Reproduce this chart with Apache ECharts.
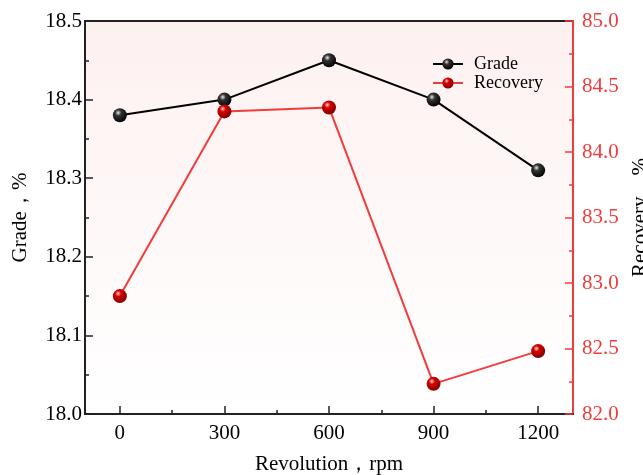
<!DOCTYPE html>
<html>
<head>
<meta charset="utf-8">
<script src="https://cdn.jsdelivr.net/npm/echarts@6/dist/echarts.min.js"></script>
<style>
  html, body { margin: 0; padding: 0; background: #fff; }
  #chart { width: 643px; height: 475px; }
</style>
</head>
<body>
<div id="chart"></div>
<script>
var revolutions = [0, 300, 600, 900, 1200];
var grade = [18.38, 18.40, 18.45, 18.40, 18.31];
var recovery = [82.90, 84.31, 84.34, 82.23, 82.48];
var majorTicks = [0, 300, 600, 900, 1200];
var minorTicks = [150, 450, 750, 1050];

function sphere (light, mid, dark) {
    return {
        type: 'radial', x: 0.38, y: 0.32, r: 0.72,
        colorStops: [
            {offset: 0, color: light},
            {offset: 0.3, color: mid},
            {offset: 1, color: dark}
        ]
    };
}

var font = '"Liberation Serif", "Times New Roman", serif';
var red = '#f03c3c';
var dark = '#222';
var chartobj = echarts.init(document.getElementById('chart'));

var option = {
    textStyle: {fontFamily: font},
    animation: false,
    grid: {
        left: 85, right: 70, top: 21, bottom: 61,
        outerBoundsMode: 'none',
        containLabel: false,
        show: true,
        borderColor: dark,
        borderWidth: 2,
        backgroundColor: {
            type: 'linear', x: 0, y: 0, x2: 0, y2: 1,
            colorStops: [
                {offset: 0, color: '#fdf1f0'},
                {offset: 1, color: '#ffffff'}
            ]
        }
    },
    legend: {
        orient: 'vertical',
        left: 427, top: 50,
        itemGap: 1,
        itemWidth: 30, itemHeight: 14,
        textStyle: {fontFamily: font, fontSize: 18, lineHeight: 14, color: '#000', padding: [0, 0, 0, 6]},
        data: ['Grade', 'Recovery']
    },
    xAxis: [
        {
            type: 'value',
            min: -100, max: 1300,
            name: 'Revolution，rpm',
            nameLocation: 'middle',
            nameGap: 40,
            nameTextStyle: {fontFamily: font, fontSize: 21, color: '#000'},
            axisLine: {onZero: false, lineStyle: {color: dark, width: 2}},
            axisTick: {inside: true, length: 8, customValues: majorTicks, lineStyle: {color: dark, width: 1.5}},
            axisLabel: {customValues: majorTicks, fontSize: 21, color: '#000', margin: 9,
                        formatter: function (v) { return String(v); }},
            splitLine: {show: false}
        },
        {
            type: 'value',
            min: -100, max: 1300,
            position: 'bottom',
            axisLine: {show: false, onZero: false},
            axisTick: {inside: true, length: 4, customValues: minorTicks, lineStyle: {color: dark, width: 1.5}},
            axisLabel: {show: false},
            splitLine: {show: false}
        }
    ],
    yAxis: [
        {
            type: 'value',
            min: 18.0, max: 18.5, interval: 0.1,
            name: 'Grade，%',
            nameLocation: 'middle',
            nameGap: 54,
            nameTextStyle: {fontFamily: font, fontSize: 21, color: '#000'},
            axisLine: {show: true, onZero: false, lineStyle: {color: dark, width: 2}},
            axisTick: {inside: true, length: 8, lineStyle: {color: dark, width: 1.5}},
            minorTick: {show: true, splitNumber: 2, length: 4, lineStyle: {color: dark, width: 1.5}},
            axisLabel: {fontSize: 21, color: '#000', margin: 3, formatter: function (v) { return v.toFixed(1); }},
            splitLine: {show: false}
        },
        {
            type: 'value',
            min: 82, max: 85, interval: 0.5,
            position: 'right',
            name: 'Recovery，%',
            nameLocation: 'middle',
            nameGap: 48,
            nameRotate: 90,
            nameTextStyle: {fontFamily: font, fontSize: 21, color: '#000'},
            axisLine: {show: true, onZero: false, lineStyle: {color: red, width: 2}},
            axisTick: {inside: true, length: 8, lineStyle: {color: red, width: 1.5}},
            minorTick: {show: true, splitNumber: 2, length: 4, lineStyle: {color: red, width: 1.5}},
            axisLabel: {fontSize: 21, color: red, margin: 9, formatter: function (v) { return v.toFixed(1); }},
            splitLine: {show: false}
        }
    ],
    series: [
        {
            name: 'Grade',
            type: 'line',
            yAxisIndex: 0,
            data: revolutions.map(function (r, i) { return [r, grade[i]]; }),
            symbol: 'circle',
            symbolSize: 14,
            lineStyle: {color: '#000', width: 2},
            itemStyle: {color: sphere('#e8e8e8', '#333', '#000'), borderWidth: 0},
            z: 3
        },
        {
            name: 'Recovery',
            type: 'line',
            yAxisIndex: 1,
            data: revolutions.map(function (r, i) { return [r, recovery[i]]; }),
            symbol: 'circle',
            symbolSize: 14,
            lineStyle: {color: red, width: 2},
            itemStyle: {color: sphere('#ffd0d0', '#d40000', '#7a0000'), borderWidth: 0},
            z: 3
        }
    ]
};
chartobj.setOption(option);
</script>
</body>
</html>
